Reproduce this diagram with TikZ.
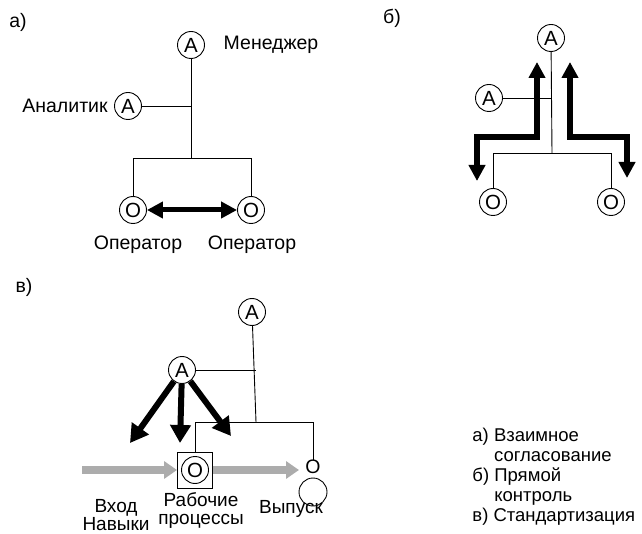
\documentclass[tikz,border=0pt]{standalone}
\usepackage{fontspec}
\setmainfont{Liberation Sans}
\usetikzlibrary{arrows.meta}

\begin{document}
\begin{tikzpicture}[x=1pt,y=-1pt,line width=0.9pt,
    font=\fontsize{19.5}{21}\selectfont,
    role/.style={draw,circle,inner sep=0pt,minimum size=27pt,font=\fontsize{20.5}{21}\selectfont},
    flow/.style={line width=6pt,line join=miter,-{Triangle[width=20pt,length=18pt]}},
    flowboth/.style={line width=6pt,line join=miter,{Triangle[width=16pt,length=16pt]}-{Triangle[width=16pt,length=16pt]}},
    stream/.style={line width=8pt,draw=gray!65,-{Triangle[width=17pt,length=13pt]}},
    lbl/.style={align=center,inner sep=0pt}]
    \useasboundingbox (0,0) rectangle (642,534);

    % a) mutual adjustment
    \node[lbl] (ta) at (18,22) {а)};
    \node[role] (man) at (191,45) {A};
    \node[lbl] (manl) at (271,45) {Менеджер};
    \node[role] (ana) at (128,106) {A};
    \node[lbl] (anal) at (65,106) {Аналитик};
    \node[role] (op1) at (133,210) {O};
    \node[role] (op2) at (251,210) {O};
    \node[lbl] (op1l) at (138,245) {Оператор};
    \node[lbl] (op2l) at (252,245) {Оператор};
    \coordinate (aj) at (191,158);
    \draw (man) -- (aj);
    \draw (ana) -- (ana -| man);
    \draw (op1) -- (op1 |- aj) -- (op2 |- aj) -- (op2);
    \draw[flowboth,line width=5pt] (op1) -- (op2);

    % b) direct supervision
    \node[lbl] (tb) at (392,18) {б)};
    \node[role] (bman) at (551,38) {A};
    \node[role] (bana) at (489,98) {A};
    \node[role] (bop1) at (493,202) {O};
    \node[role] (bop2) at (611,202) {O};
    \coordinate (bj) at (552,153);
    \draw (bman) -- (bj);
    \draw (bana) -- (bana -| bj);
    \draw (bop1) -- (bop1 |- bj) -- (bop2 |- bj) -- (bop2);
    \coordinate (bl1) at (537,62);
    \coordinate (bl2) at (537,137);
    \coordinate (bl3) at (477,137);
    \coordinate (bl4) at (477,181);
    \coordinate (br1) at (570,62);
    \coordinate (br2) at (570,137);
    \coordinate (br3) at (627,137);
    \coordinate (br4) at (627,178);
    \draw[flowboth] (bl1) -- (bl2) -- (bl3) -- (bl4);
    \draw[flowboth] (br1) -- (br2) -- (br3) -- (br4);

    % c) standardization
    \node[lbl] (tc) at (24,287) {в)};
    \node[role] (cman) at (252,312) {A};
    \node[role] (cana) at (182,370) {A};
    \node[draw,minimum width=35pt,minimum height=36pt,inner sep=0pt] (sq) at (195,470) {};
    \node[role] (cop) at (sq.center) {O};
    \node[lbl] (out) at (313,467) {O};
    \node[draw,circle,minimum size=28pt,inner sep=0pt] (outc) at (313,492) {};
    \coordinate (cj) at (256,422);
    \draw (cman) -- (cj);
    \draw (cana) -- (cana -| cj);
    \draw (sq) -- (sq |- cj) -- (out |- cj) -- (out);
    \coordinate (cin) at (82,470);
    \coordinate (cout) at (299,470);
    \draw[stream] (cin) -- (sq.west);
    \draw[stream] (sq.east) -- (cout);
    \coordinate (c1) at (130,443);
    \coordinate (c2) at (180,443);
    \coordinate (c3) at (231,436);
    \draw[flow] (cana) -- (c1);
    \draw[flow] (cana) -- (c2);
    \draw[flow] (cana) -- (c3);
    \node[lbl,font=\fontsize{19}{16}\selectfont] (inl) at (116,515) {Вход\\Навыки};
    \node[lbl,font=\fontsize{19}{18}\selectfont] (prl) at (201,511) {Рабочие\\процессы};
    \node[lbl,font=\fontsize{19}{18}\selectfont] (outl) at (291,509) {Выпуск};

    % legend
    \node[align=left,inner sep=0pt,anchor=north west,font=\fontsize{18.5}{20}\selectfont] (leg) at (472,428)
        {а) Взаимное\\\hphantom{а) }согласование\\б) Прямой\\\hphantom{б) }контроль\\в) Стандартизация};
\end{tikzpicture}
\end{document}
